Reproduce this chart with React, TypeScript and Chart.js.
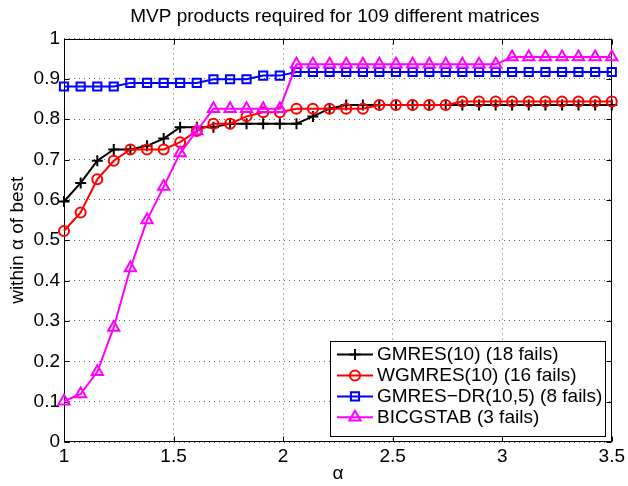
import { useEffect, useRef } from "react";
import { Chart, registerables } from "chart.js";
import { drawPoint } from "chart.js/helpers";

Chart.register(...registerables);

const titleText = "MVP products required for 109 different matrices";
const xAxisTitle = "α";
const yAxisTitle = "within α of best";

const alphaValues = [
  1.0, 1.076, 1.152, 1.227, 1.303, 1.379, 1.455, 1.53, 1.606, 1.682, 1.758, 1.833,
  1.909, 1.985, 2.061, 2.136, 2.212, 2.288, 2.364, 2.439, 2.515, 2.591, 2.667, 2.742,
  2.818, 2.894, 2.97, 3.045, 3.121, 3.197, 3.273, 3.348, 3.424, 3.5,
];

const gmres10 = [
  0.596, 0.642, 0.697, 0.725, 0.725, 0.734, 0.752, 0.78, 0.78, 0.78, 0.789, 0.789,
  0.789, 0.789, 0.789, 0.807, 0.826, 0.835, 0.835, 0.835, 0.835, 0.835, 0.835, 0.835,
  0.835, 0.835, 0.835, 0.835, 0.835, 0.835, 0.835, 0.835, 0.835, 0.835,
];

const wgmres10 = [
  0.523, 0.569, 0.651, 0.697, 0.725, 0.725, 0.725, 0.743, 0.771, 0.789, 0.789, 0.807,
  0.817, 0.817, 0.826, 0.826, 0.826, 0.826, 0.826, 0.835, 0.835, 0.835, 0.835, 0.835,
  0.844, 0.844, 0.844, 0.844, 0.844, 0.844, 0.844, 0.844, 0.844, 0.844,
];

const gmresDr = [
  0.881, 0.881, 0.881, 0.881, 0.89, 0.89, 0.89, 0.89, 0.89, 0.899, 0.899, 0.899,
  0.908, 0.908, 0.917, 0.917, 0.917, 0.917, 0.917, 0.917, 0.917, 0.917, 0.917, 0.917,
  0.917, 0.917, 0.917, 0.917, 0.917, 0.917, 0.917, 0.917, 0.917, 0.917,
];

const bicgstab = [
  0.101, 0.119, 0.174, 0.284, 0.431, 0.55, 0.633, 0.716, 0.771, 0.826, 0.826, 0.826,
  0.826, 0.826, 0.936, 0.936, 0.936, 0.936, 0.936, 0.936, 0.936, 0.936, 0.936, 0.936,
  0.936, 0.936, 0.936, 0.954, 0.954, 0.954, 0.954, 0.954, 0.954, 0.954,
];

const seriesLabels = [
  "GMRES(10) (18 fails)",
  "WGMRES(10) (16 fails)",
  "GMRES−DR(10,5) (8 fails)",
  "BICGSTAB (3 fails)",
];

const xTickLabels = ["1", "1.5", "2", "2.5", "3", "3.5"];
const yTickLabels = ["0", "0.1", "0.2", "0.3", "0.4", "0.5", "0.6", "0.7", "0.8", "0.9", "1"];

const FONT_FAMILY = "'Liberation Sans', Arial, Helvetica, sans-serif";
const FS = 19;

const titlePlugin = {
  id: "areaTitle",
  afterDraw(chart: any) {
    const { ctx, chartArea: a } = chart;
    ctx.save();
    ctx.font = `${FS}px ${FONT_FAMILY}`;
    ctx.fillStyle = "#000";
    ctx.textAlign = "center";
    ctx.textBaseline = "middle";
    ctx.fillText(titleText, (a.left + a.right) / 2 - 3, 16.3);
    ctx.restore();
  },
};

const framePlugin = {
  id: "matlabFrame",
  beforeDatasetsDraw(chart: any) {
    const { ctx, chartArea: a, scales } = chart;
    const xs = scales.x;
    const ys = scales.y;
    const L = Math.round(a.left) + 0.5;
    const R = Math.round(a.right) - 0.5;
    const T = Math.round(a.top) + 0.5;
    const B = Math.round(a.bottom) - 0.5;
    const tl = 5;
    ctx.save();
    ctx.strokeStyle = "#000";
    ctx.lineWidth = 1;
    ctx.setLineDash([]);
    ctx.strokeRect(L, T, R - L, B - T);
    ctx.beginPath();
    xs.ticks.forEach((t: any) => {
      const px = Math.round(xs.getPixelForValue(t.value)) + 0.5;
      ctx.moveTo(px, B);
      ctx.lineTo(px, B - tl);
      ctx.moveTo(px, T);
      ctx.lineTo(px, T + tl);
    });
    ys.ticks.forEach((t: any) => {
      const py = Math.round(ys.getPixelForValue(t.value)) + 0.5;
      ctx.moveTo(L, py);
      ctx.lineTo(L + tl, py);
      ctx.moveTo(R, py);
      ctx.lineTo(R - tl, py);
    });
    ctx.stroke();
    ctx.restore();
  },
};

const boxLegendPlugin = {
  id: "boxLegend",
  afterDraw(chart: any) {
    const { ctx, chartArea: a } = chart;
    const datasets = chart.data.datasets;
    ctx.save();
    ctx.font = `${FS}px ${FONT_FAMILY}`;
    const maxW = Math.max(...datasets.map((d: any) => ctx.measureText(d.label).width));
    const sampleL = 7;
    const sampleW = 36;
    const textOff = 47;
    const boxW = textOff + maxW + 4;
    const boxH = 96;
    const right = Math.round(a.right) - 6;
    const bottom = Math.round(a.bottom) - 5;
    const left = Math.round(right - boxW);
    const top = bottom - boxH;
    ctx.fillStyle = "#fff";
    ctx.fillRect(left, top, right - left, boxH);
    ctx.strokeStyle = "#000";
    ctx.lineWidth = 1;
    ctx.strokeRect(left + 0.5, top + 0.5, right - left - 1, boxH - 1);
    datasets.forEach((d: any, i: number) => {
      const cy = top + 13.6 + i * 20.9;
      ctx.strokeStyle = d.borderColor;
      ctx.lineWidth = d.borderWidth;
      ctx.beginPath();
      ctx.moveTo(left + sampleL, cy);
      ctx.lineTo(left + sampleL + sampleW, cy);
      ctx.stroke();
      ctx.fillStyle = "rgba(0,0,0,0)";
      ctx.strokeStyle = d.borderColor;
      ctx.lineWidth = d.pointBorderWidth;
      drawPoint(
        ctx,
        { pointStyle: d.pointStyle, rotation: 0, radius: d.pointRadius, borderWidth: d.pointBorderWidth } as any,
        left + sampleL + sampleW / 2,
        cy
      );
      ctx.fillStyle = "#000";
      ctx.textAlign = "left";
      ctx.textBaseline = "middle";
      ctx.fillText(d.label, left + textOff, cy);
    });
    ctx.restore();
  },
};

function toPoints(values: number[]) {
  return values.map((v, i) => ({ x: alphaValues[i], y: v }));
}

export default function App() {
  const canvasRef = useRef<HTMLCanvasElement | null>(null);

  useEffect(() => {
    document.body.style.margin = "0";
    const canvas = canvasRef.current;
    if (!canvas) return;

    const common = {
      showLine: true,
      tension: 0,
      borderWidth: 2,
      pointBorderWidth: 2,
      pointBackgroundColor: "rgba(0,0,0,0)",
      clip: false as any,
    };

    const chart = new Chart(canvas, {
      type: "scatter",
      data: {
        datasets: [
          {
            ...common,
            label: seriesLabels[0],
            data: toPoints(gmres10),
            borderColor: "#000000",
            pointBorderColor: "#000000",
            pointStyle: "cross",
            pointRadius: 5.5,
            order: 4,
          },
          {
            ...common,
            label: seriesLabels[1],
            data: toPoints(wgmres10),
            borderColor: "#ff0000",
            pointBorderColor: "#ff0000",
            pointStyle: "circle",
            pointRadius: 5,
            order: 3,
          },
          {
            ...common,
            label: seriesLabels[2],
            data: toPoints(gmresDr),
            borderColor: "#0000ff",
            pointBorderColor: "#0000ff",
            pointStyle: "rect",
            pointRadius: 5.8,
            order: 2,
          },
          {
            ...common,
            label: seriesLabels[3],
            data: toPoints(bicgstab),
            borderColor: "#ff00ff",
            pointBorderColor: "#ff00ff",
            pointStyle: "triangle",
            pointRadius: 6.5,
            order: 1,
          },
        ] as any,
      },
      options: {
        animation: false,
        responsive: false,
        devicePixelRatio: 1,
        layout: { padding: { left: 0, right: 14, top: 38.5, bottom: 0 }, autoPadding: false },
        font: { family: FONT_FAMILY, size: FS },
        plugins: {
          legend: { display: false },
          tooltip: { enabled: false },
          title: { display: false },
        },
        scales: {
          x: {
            type: "linear",
            min: 1,
            max: 3.5,
            afterFit: (scale: any) => {
              scale.height = 44;
            },
            ticks: {
              stepSize: 0.5,
              padding: 3,
              color: "#000",
              font: { family: FONT_FAMILY, size: FS },
              maxRotation: 0,
              callback: (_v: any, i: number) => xTickLabels[i],
            },
            grid: { color: "rgba(0,0,0,0.6)", lineWidth: 1, drawTicks: false },
            border: { display: false, dash: [1, 4] },
            title: {
              display: true,
              text: xAxisTitle,
              color: "#000",
              font: { family: FONT_FAMILY, size: FS },
              padding: { top: 0, bottom: 0.7 },
            },
          },
          y: {
            type: "linear",
            min: 0,
            max: 1,
            afterFit: (scale: any) => {
              scale.width = 64;
            },
            ticks: {
              stepSize: 0.1,
              padding: 4,
              color: "#000",
              font: { family: FONT_FAMILY, size: FS },
              callback: (_v: any, i: number) => yTickLabels[i],
            },
            grid: { color: "rgba(0,0,0,0.6)", lineWidth: 1, drawTicks: false },
            border: { display: false, dash: [1, 4] },
            title: {
              display: true,
              text: yAxisTitle,
              color: "#000",
              font: { family: FONT_FAMILY, size: FS },
              padding: { top: 6, bottom: 0 },
            },
          },
        },
      } as any,
      plugins: [framePlugin, boxLegendPlugin, titlePlugin],
    });

    return () => {
      chart.destroy();
    };
  }, []);

  return (
    <div style={{ width: 628, height: 486, background: "#fff" }}>
      <canvas ref={canvasRef} width={628} height={486} style={{ display: "block", width: 628, height: 486 }} />
    </div>
  );
}
